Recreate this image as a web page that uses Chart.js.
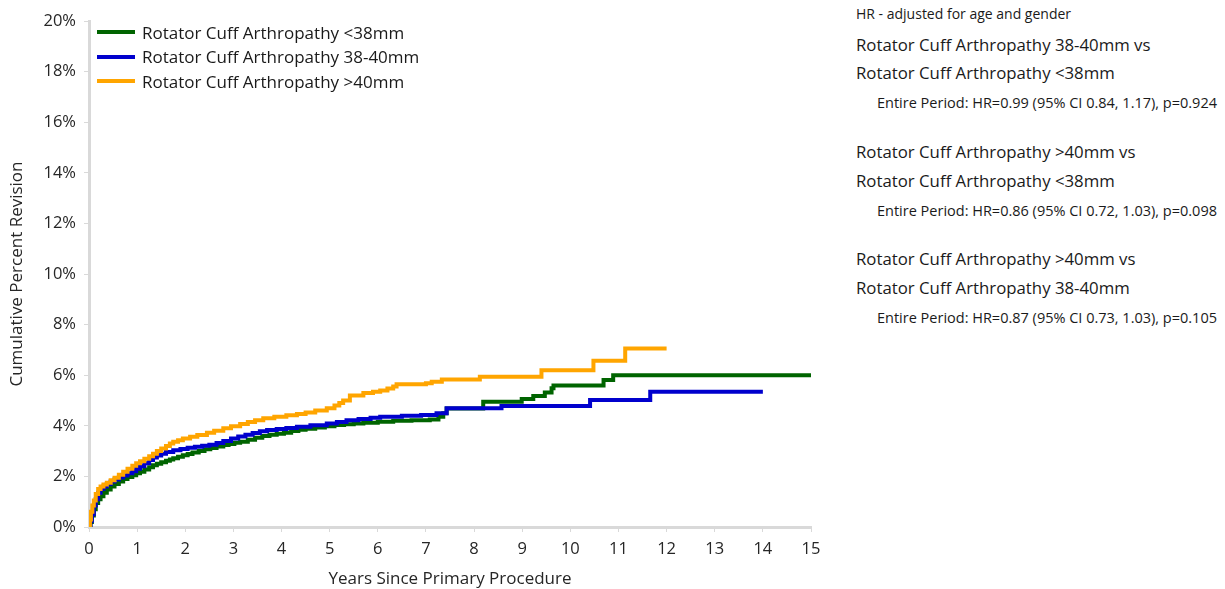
<!DOCTYPE html>
<html lang="en">
<head>
<meta charset="UTF-8">
<title>Cumulative Percent Revision - Rotator Cuff Arthropathy</title>
<script src="https://cdn.jsdelivr.net/npm/chart.js"></script>
<style>
  body { margin: 0; background: #fff; font-family: "Open Sans", sans-serif; color: #1a1a1a; }
  .wrap { position: relative; width: 1225px; height: 589px; overflow: hidden; }
  .plot { position: absolute; left: 0; top: 0; width: 830px; height: 589px; }
  .legend { position: absolute; left: 97px; top: 20px; font-size: 17px; }
  .legend .row { height: 24.5px; display: flex; align-items: center; white-space: nowrap; }
  .legend .swatch { width: 38px; height: 4px; margin-right: 7px; }
  .notes div { position: absolute; white-space: nowrap; line-height: 20px; }
  .notes .hd { font-size: 14px; }
  .notes .cmp { font-size: 16.8px; }
  .notes .res { font-size: 14.5px; }
</style>
</head>
<body>
<div class="wrap">
  <div class="plot"><canvas id="kmChart"></canvas></div>
  <div class="legend" id="legend"></div>
  <div class="notes">
    <div class="hd" style="left:856px; top:4px;">HR - adjusted for age and gender</div>
    <div class="cmp" style="left:856px; top:35px;">Rotator Cuff Arthropathy 38-40mm vs</div>
    <div class="cmp" style="left:856px; top:63px;">Rotator Cuff Arthropathy &lt;38mm</div>
    <div class="res" style="left:877px; top:93px;">Entire Period: HR=0.99 (95% CI 0.84, 1.17), p=0.924</div>
    <div class="cmp" style="left:856px; top:142px;">Rotator Cuff Arthropathy &gt;40mm vs</div>
    <div class="cmp" style="left:856px; top:171px;">Rotator Cuff Arthropathy &lt;38mm</div>
    <div class="res" style="left:877px; top:201px;">Entire Period: HR=0.86 (95% CI 0.72, 1.03), p=0.098</div>
    <div class="cmp" style="left:856px; top:249px;">Rotator Cuff Arthropathy &gt;40mm vs</div>
    <div class="cmp" style="left:856px; top:278px;">Rotator Cuff Arthropathy 38-40mm</div>
    <div class="res" style="left:877px; top:308px;">Entire Period: HR=0.87 (95% CI 0.73, 1.03), p=0.105</div>
  </div>
</div>

<script>
// series labels and colours
const seriesNames = ["Rotator Cuff Arthropathy <38mm", "Rotator Cuff Arthropathy 38-40mm", "Rotator Cuff Arthropathy >40mm"];
const seriesColors = ["#006400", "#0000CD", "#FFA500"];

// <38mm  (years since primary, cumulative % revision)
const smallYears = [0, 0.03, 0.06, 0.1, 0.14, 0.19, 0.24, 0.3, 0.37, 0.45, 0.53, 0.62, 0.71, 0.8, 0.9, 0.98,
    1.06, 1.15, 1.25, 1.33, 1.41, 1.5, 1.6, 1.68, 1.75, 1.85, 1.95, 2.05, 2.15, 2.28, 2.4, 2.52, 2.65, 2.79, 2.9,
    3.02, 3.14, 3.3, 3.45, 3.6, 3.75, 3.9, 4.05, 4.2, 4.35, 4.5, 4.7, 4.9, 5.1, 5.3, 5.5, 5.7, 6.0, 6.32, 6.7,
    7.08, 7.26, 7.36, 7.43, 8.19, 8.99, 9.23, 9.47, 9.61, 9.65, 10.69, 10.89, 15.0];
const smallPct = [0, 0.2, 0.45, 0.7, 0.95, 1.1, 1.22, 1.35, 1.48, 1.6, 1.7, 1.8, 1.9, 1.98, 2.05, 2.12,
    2.18, 2.27, 2.36, 2.44, 2.5, 2.56, 2.62, 2.67, 2.72, 2.78, 2.84, 2.89, 2.94, 3.0, 3.07, 3.12, 3.18, 3.24, 3.28,
    3.33, 3.37, 3.45, 3.53, 3.6, 3.65, 3.69, 3.73, 3.79, 3.84, 3.88, 3.93, 3.98, 4.03, 4.06, 4.09, 4.12, 4.16, 4.2, 4.22,
    4.25, 4.36, 4.5, 4.68, 4.95, 5.06, 5.18, 5.32, 5.48, 5.59, 5.81, 6.0, 6.0];

// 38-40mm
const midYears = [0, 0.03, 0.06, 0.1, 0.14, 0.19, 0.24, 0.3, 0.37, 0.45, 0.53, 0.62, 0.71, 0.8, 0.9, 0.98,
    1.06, 1.15, 1.25, 1.33, 1.41, 1.5, 1.6, 1.75, 1.9, 2.05, 2.2, 2.35, 2.5, 2.65, 2.79, 2.95, 3.1, 3.25, 3.4,
    3.55, 3.7, 3.9, 4.1, 4.32, 4.6, 4.94, 5.15, 5.35, 5.6, 5.85, 6.05, 6.5, 6.9, 7.22, 7.43, 8.57, 10.41, 11.66, 14.0];
const midPct = [0, 0.25, 0.5, 0.85, 1.1, 1.35, 1.5, 1.6, 1.7, 1.8, 1.88, 1.96, 2.04, 2.12, 2.2, 2.3,
    2.4, 2.52, 2.65, 2.75, 2.83, 2.9, 2.96, 3.03, 3.08, 3.13, 3.17, 3.21, 3.25, 3.32, 3.4, 3.5, 3.58, 3.65, 3.72,
    3.78, 3.83, 3.87, 3.91, 3.96, 4.02, 4.09, 4.15, 4.22, 4.27, 4.32, 4.36, 4.4, 4.43, 4.5, 4.69, 4.78, 5.02, 5.35, 5.35];

// >40mm
const largeYears = [0, 0.02, 0.04, 0.07, 0.1, 0.14, 0.19, 0.24, 0.3, 0.37, 0.45, 0.53, 0.62, 0.71, 0.8, 0.9, 0.98,
    1.06, 1.15, 1.25, 1.33, 1.41, 1.5, 1.6, 1.68, 1.75, 1.85, 1.95, 2.1, 2.25, 2.45, 2.6, 2.79, 2.95, 3.14, 3.3,
    3.45, 3.62, 3.85, 4.1, 4.32, 4.5, 4.7, 4.94, 5.1, 5.2, 5.28, 5.42, 5.7, 5.9, 6.05, 6.2, 6.32, 6.39, 7.0, 7.12,
    7.33, 8.12, 9.4, 10.48, 11.14, 12.0];
const largePct = [0, 0.3, 0.6, 0.85, 1.05, 1.3, 1.5, 1.6, 1.68, 1.75, 1.85, 1.95, 2.07, 2.18, 2.3, 2.42, 2.52,
    2.6, 2.7, 2.8, 2.9, 3.0, 3.1, 3.2, 3.3, 3.37, 3.43, 3.5, 3.57, 3.64, 3.73, 3.8, 3.9, 3.98, 4.07, 4.15,
    4.22, 4.3, 4.36, 4.42, 4.47, 4.53, 4.6, 4.69, 4.8, 4.9, 5.0, 5.2, 5.3, 5.35, 5.4, 5.47, 5.55, 5.64, 5.68, 5.74,
    5.83, 5.94, 6.2, 6.57, 7.06, 7.06];

const xTicks = [0, 1, 2, 3, 4, 5, 6, 7, 8, 9, 10, 11, 12, 13, 14, 15];
const yTicks = [0, 2, 4, 6, 8, 10, 12, 14, 16, 18, 20];

function toPoints(xs, ys) {
    return xs.map((x, i) => ({ x: x, y: ys[i] }));
}

const allSeries = [
    toPoints(smallYears, smallPct),
    toPoints(midYears, midPct),
    toPoints(largeYears, largePct)
];

// legend (html, sits inside the plot area top-left)
const legendBox = document.getElementById("legend");
seriesNames.forEach((name, i) => {
    const row = document.createElement("div");
    row.className = "row";
    const sw = document.createElement("span");
    sw.className = "swatch";
    sw.style.background = seriesColors[i];
    const txt = document.createElement("span");
    txt.textContent = name;
    row.appendChild(sw);
    row.appendChild(txt);
    legendBox.appendChild(row);
});

const axisGrey = "#d9d9d9";
const textColor = "#262626";
const fontFamily = "'Open Sans', sans-serif";

new Chart(document.getElementById("kmChart"), {
    type: "line",
    data: {
        datasets: allSeries.map((pts, i) => ({
            label: seriesNames[i],
            data: pts,
            borderColor: seriesColors[i],
            backgroundColor: seriesColors[i],
            borderWidth: 4,
            pointRadius: 0,
            stepped: "before",
            fill: false
        })).reverse()
    },
    options: {
        responsive: true,
        maintainAspectRatio: false,
        animation: false,
        layout: { padding: { top: 21, right: 19, bottom: 0, left: 0 } },
        plugins: {
            legend: { display: false },
            tooltip: { enabled: false }
        },
        scales: {
            x: {
                type: "linear",
                min: 0,
                max: 15,
                afterBuildTicks: scale => { scale.ticks = xTicks.map(v => ({ value: v })); },
                afterFit: scale => { scale.height = 62; },
                grid: { display: true, drawOnChartArea: false, drawTicks: true, tickLength: 5, color: axisGrey, lineWidth: 1 },
                border: { display: true, color: axisGrey, width: 3 },
                ticks: { color: textColor, padding: 7, maxRotation: 0, font: { family: fontFamily, size: 16.5 } },
                title: {
                    display: true,
                    text: "Years Since Primary Procedure",
                    color: textColor,
                    padding: { top: 0, bottom: 0 },
                    font: { family: fontFamily, size: 17 }
                }
            },
            y: {
                type: "linear",
                min: 0,
                max: 20,
                afterBuildTicks: scale => { scale.ticks = yTicks.map(v => ({ value: v })); },
                afterFit: scale => { scale.width = 89; },
                grid: { display: true, drawOnChartArea: false, drawTicks: true, tickLength: 5, color: axisGrey, lineWidth: 1 },
                border: { display: true, color: axisGrey, width: 3 },
                ticks: {
                    color: textColor,
                    padding: 8,
                    font: { family: fontFamily, size: 16.5 },
                    callback: v => v + "%"
                },
                title: {
                    display: true,
                    text: "Cumulative Percent Revision",
                    color: textColor,
                    padding: { top: 7, bottom: 0 },
                    font: { family: fontFamily, size: 17 }
                }
            }
        }
    }
});
</script>
</body>
</html>
